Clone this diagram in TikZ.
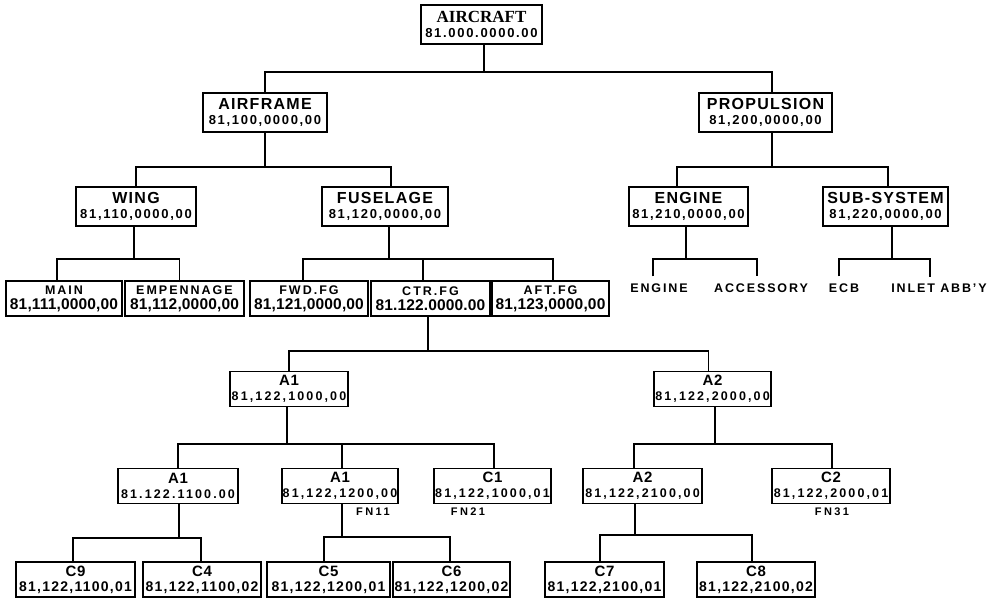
\documentclass[tikz,border=0pt]{standalone}
\usepackage{fontspec}
\setmainfont{Liberation Sans}
\newfontfamily\serifbold{Liberation Serif}

% title and number faces for the different tiers
\newcommand\ttlTop[1]{{\serifbold\bfseries\fontsize{17}{17}\selectfont #1}}
\newcommand\ttlA[1]{{\bfseries\fontsize{16}{16}\selectfont\addfontfeature{LetterSpace=8}#1}}
\newcommand\ttlB[1]{{\bfseries\fontsize{12.5}{12.5}\selectfont\addfontfeature{LetterSpace=16}#1}}
\newcommand\ttlC[1]{{\bfseries\fontsize{15}{15}\selectfont\addfontfeature{LetterSpace=5}#1}}
\newcommand\numA[1]{{\bfseries\fontsize{13}{13}\selectfont\addfontfeature{LetterSpace=13}#1}}
\newcommand\numB[1]{{\bfseries\fontsize{15.5}{15.5}\selectfont\addfontfeature{LetterSpace=1}#1}}
\newcommand\numC[1]{{\bfseries\fontsize{12.5}{12.5}\selectfont\addfontfeature{LetterSpace=17}#1}}
\newcommand\numD[1]{{\bfseries\fontsize{14}{14}\selectfont\addfontfeature{LetterSpace=9}#1}}

\tikzset{
  box/.style={draw, line width=1.6pt, inner sep=0pt, align=center},
  tierA/.style={box, minimum height=39pt, font=\fontsize{13}{15}\selectfont},
  tierB/.style={box, minimum height=35pt, font=\fontsize{13}{15}\selectfont},
  tierC/.style={box, minimum height=35pt, font=\fontsize{12}{15}\selectfont},
  wire/.style={line width=1.4pt},
  leaf/.style={inner sep=0pt, font=\bfseries\fontsize{12.5}{12.5}\selectfont\addfontfeature{LetterSpace=15}},
  note/.style={inner sep=0pt, font=\bfseries\fontsize{11}{11}\selectfont\addfontfeature{LetterSpace=22}},
}

\begin{document}
\begin{tikzpicture}[x=1pt, y=-1pt]
\fill[white] (0,0) rectangle (990,599);
\useasboundingbox (0,0) rectangle (990,599);

% ---- boxes ----
\node[tierA, minimum width=121pt] (air) at (481.5,24.5) {\ttlTop{AIRCRAFT}\\\numA{81.000.0000.00}};

\node[tierA, minimum width=124pt] (afr)  at (265,112.5)   {\ttlA{AIRFRAME}\\\numA{81,100,0000,00}};
\node[tierA, minimum width=133pt] (prop) at (765.5,112.5) {\ttlA{PROPULSION}\\\numA{81,200,0000,00}};

\node[tierA, minimum width=120pt] (wing) at (136,206.5)   {\ttlA{WING}\\\numA{81,110,0000,00}};
\node[tierA, minimum width=126pt] (fus)  at (385,206.5)   {\ttlA{FUSELAGE}\\\numA{81,120,0000,00}};
\node[tierA, minimum width=119pt] (eng)  at (688.5,206.5) {\ttlA{ENGINE}\\\numA{81,210,0000,00}};
\node[tierA, minimum width=125pt] (sub)  at (885.5,206.5) {\ttlA{SUB-SYSTEM}\\\numA{81,220,0000,00}};

\node[tierB, minimum width=116pt] (main) at (64,298.5)    {\ttlB{MAIN}\\\numB{81,111,0000,00}};
\node[tierB, minimum width=119pt] (emp)  at (184.5,298.5) {\ttlB{EMPENNAGE}\\\numB{81,112,0000,00}};
\node[tierB, minimum width=118pt] (fwd)  at (309,298.5)   {\ttlB{FWD.FG}\\\numB{81,121,0000,00}};
\node[tierB, minimum width=119pt] (ctr)  at (430.5,298.5) {\ttlB{CTR.FG}\\\numB{81.122.0000.00}};
\node[tierB, minimum width=117pt] (aft)  at (550.5,298.5) {\ttlB{AFT.FG}\\\numB{81,123,0000,00}};

\node[leaf] (le1) at (659,288) {ENGINE};
\node[leaf] (le2) at (761,288) {ACCESSORY};
\node[leaf] (ls1) at (844,288) {ECB};
\node[leaf] (ls2) at (939,288) {INLET ABB'Y};

\node[tierC, minimum width=118pt] (a1) at (289,389)   {\ttlC{A1}\\\numC{81,122,1000,00}};
\node[tierC, minimum width=117pt] (a2) at (712.5,389) {\ttlC{A2}\\\numC{81,122,2000,00}};

\node[tierC, minimum width=120pt] (a11) at (178,486)   {\ttlC{A1}\\\numC{81.122.1100.00}};
\node[tierC, minimum width=116pt] (a12) at (340,486)   {\ttlC{A1}\\\numC{81,122,1200,00}};
\node[tierC, minimum width=117pt] (c1)  at (492.5,486) {\ttlC{C1}\\\numC{81,122,1000,01}};
\node[tierC, minimum width=119pt] (a21) at (642.5,486) {\ttlC{A2}\\\numC{81,122,2100,00}};
\node[tierC, minimum width=118pt] (c2)  at (831,486)   {\ttlC{C2}\\\numC{81,122,2000,01}};

\node[note] (fn11) at (373,512) {FN11};
\node[note] (fn21) at (468,512) {FN21};
\node[note] (fn31) at (832,512) {FN31};

\node[tierC, minimum width=119pt] (c9) at (75.5,579.5)  {\ttlC{C9}\\\numD{81,122,1100,01}};
\node[tierC, minimum width=118pt] (c4) at (202,579.5)   {\ttlC{C4}\\\numD{81,122,1100,02}};
\node[tierC, minimum width=123pt] (c5) at (328.5,579.5) {\ttlC{C5}\\\numD{81,122,1200,01}};
\node[tierC, minimum width=117pt] (c6) at (451.5,579.5) {\ttlC{C6}\\\numD{81,122,1200,02}};
\node[tierC, minimum width=119pt] (c7) at (604.5,579.5) {\ttlC{C7}\\\numD{81,122,2100,01}};
\node[tierC, minimum width=118pt] (c8) at (756,579.5)   {\ttlC{C8}\\\numD{81,122,2100,02}};

% ---- bus junctions ----
\coordinate (j0)  at (484,72);
\coordinate (j1)  at (265,167);
\coordinate (j2)  at (772,167);
\coordinate (j3)  at (134,259);
\coordinate (j4)  at (389,259);
\coordinate (j5)  at (686,259);
\coordinate (j6)  at (892,259);
\coordinate (j7)  at (428,351);
\coordinate (j8)  at (287,444);
\coordinate (j9)  at (715,444);
\coordinate (j10) at (179,538);
\coordinate (j11) at (342,537);
\coordinate (j12) at (635,535);

% ---- connectors ----
\draw[wire] (air.south -| j0) -- (j0);
\draw[wire] (afr.north) |- (j0) -| ([xshift=6.5]prop.north);

\draw[wire] (afr.south) -- (j1);
\draw[wire] (wing.north) |- (j1) -| ([xshift=6]fus.north);

\draw[wire] (prop.south -| j2) -- (j2);
\draw[wire] ([xshift=-11.5]eng.north) |- (j2) -| ([xshift=2.5]sub.north);

\draw[wire] (wing.south -| j3) -- (j3);
\draw[wire] ([xshift=-7]main.north) |- (j3) -| ([xshift=-5]emp.north);

\draw[wire] (fus.south -| j4) -- (j4);
\draw[wire] ([xshift=-6]fwd.north) |- (j4) -| ([xshift=2.5]aft.north);
\draw[wire] ([xshift=-7.5]ctr.north) -- ([xshift=-7.5]ctr.north |- j4);

\draw[wire] (eng.south -| j5) -- (j5);
\draw[wire] ([xshift=-6,yshift=7]le1.north) |- (j5) -| ([xshift=-4,yshift=7]le2.north);

\draw[wire] (sub.south -| j6) -- (j6);
\draw[wire] ([xshift=-5,yshift=7]ls1.north) |- (j6) -| ([xshift=-9,yshift=7]ls2.north);

\draw[wire] (ctr.south -| j7) -- (j7);
\draw[wire] (a1.north) |- (j7) -| ([xshift=-4]a2.north);

\draw[wire] (a1.south -| j8) -- (j8);
\draw[wire] (a11.north) |- (j8) -| ([xshift=1.5]c1.north);
\draw[wire] ([xshift=2]a12.north) -- ([xshift=2]a12.north |- j8);

\draw[wire] (a2.south -| j9) -- (j9);
\draw[wire] ([xshift=-8.5]a21.north) |- (j9) -| ([xshift=1]c2.north);

\draw[wire] (a11.south -| j10) -- (j10);
\draw[wire] ([xshift=-2.5]c9.north) |- (j10) -| ([xshift=-1]c4.north);

\draw[wire] (a12.south -| j11) -- (j11);
\draw[wire] ([xshift=-4.5]c5.north) |- (j11) -| ([xshift=-1.5]c6.north);

\draw[wire] (a21.south -| j12) -- (j12);
\draw[wire] ([xshift=-4.5]c7.north) |- (j12) -| ([xshift=-4]c8.north);
\end{tikzpicture}
\end{document}
